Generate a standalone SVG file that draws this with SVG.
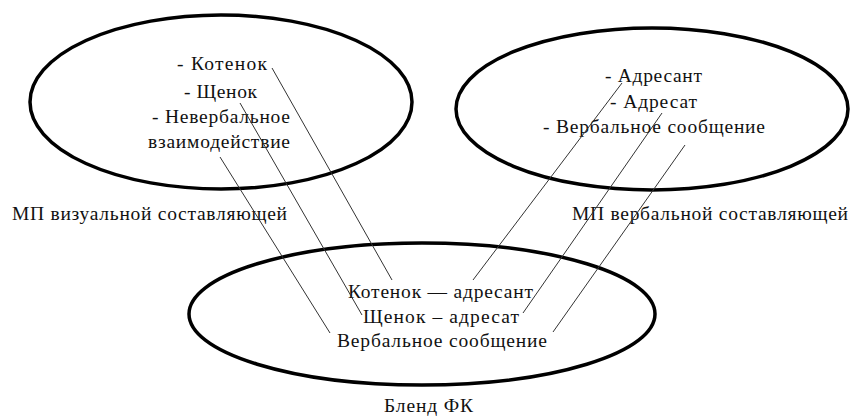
<svg xmlns="http://www.w3.org/2000/svg" width="851" height="417" viewBox="0 0 851 417">
<style>
.ell{fill:none;stroke:#000;stroke-width:3.5}
.t{font-family:"Liberation Serif","Times New Roman",serif;font-size:19.5px;fill:#111}
.c{stroke:#333;stroke-width:1;fill:none}
</style>
<rect width="851" height="417" fill="#fff"/>
<g id="node-visual">
<ellipse class="ell" cx="221" cy="102" rx="191" ry="87"/>
<text class="t" x="177" y="70" textLength="90" lengthAdjust="spacing">- Котенок</text>
<text class="t" x="184" y="98" textLength="73" lengthAdjust="spacing">- Щенок</text>
<text class="t" x="152" y="123" textLength="138" lengthAdjust="spacing">- Невербальное</text>
<text class="t" x="148" y="148" textLength="142" lengthAdjust="spacing">взаимодействие</text>
<text class="t" x="12" y="220" textLength="275" lengthAdjust="spacing">МП визуальной составляющей</text>
</g>
<g id="node-verbal">
<ellipse class="ell" cx="652" cy="109" rx="196" ry="81"/>
<text class="t" x="605" y="82" textLength="97" lengthAdjust="spacing">- Адресант</text>
<text class="t" x="610" y="108" textLength="87" lengthAdjust="spacing">- Адресат</text>
<text class="t" x="543" y="133" textLength="222" lengthAdjust="spacing">- Вербальное сообщение</text>
<text class="t" x="572" y="220" textLength="276" lengthAdjust="spacing">МП вербальной составляющей</text>
</g>
<g id="node-blend">
<ellipse class="ell" cx="422" cy="314" rx="233" ry="71"/>
<text class="t" x="348" y="298" textLength="185" lengthAdjust="spacing">Котенок — адресант</text>
<text class="t" x="363" y="323" textLength="156" lengthAdjust="spacing">Щенок – адресат</text>
<text class="t" x="337" y="347" textLength="210" lengthAdjust="spacing">Вербальное сообщение</text>
<text class="t" x="384" y="412" textLength="89" lengthAdjust="spacing">Бленд ФК</text>
</g>
<g id="connectors">
<line class="c" x1="272" y1="68" x2="392" y2="280"/>
<line class="c" x1="240" y1="103" x2="362" y2="315"/>
<line class="c" x1="220" y1="157" x2="330" y2="333"/>
<line class="c" x1="622" y1="83" x2="473" y2="280"/>
<line class="c" x1="662" y1="113" x2="523" y2="313"/>
<line class="c" x1="685" y1="145" x2="553" y2="332"/>
</g>
</svg>
